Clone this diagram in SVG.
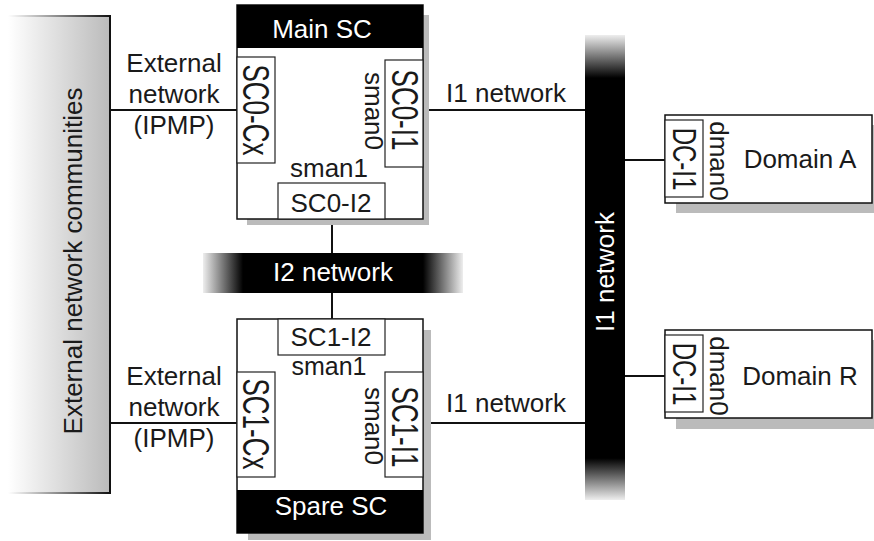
<svg xmlns="http://www.w3.org/2000/svg" width="874" height="541" viewBox="0 0 874 541">
<style>
text{font-family:"Liberation Sans",Arial,Helvetica,sans-serif;font-size:26px;fill:#1a1a1a}
.w{fill:#fff}
.box{fill:#fff;stroke:#111;stroke-width:1.5}
.port{fill:#fff;stroke:#222;stroke-width:1.2}
.sh{fill:#bbb}
.ln{stroke:#111;stroke-width:2;fill:none}
</style>
<defs>
<linearGradient id="extG" gradientUnits="userSpaceOnUse" x1="8" y1="0" x2="110" y2="0">
<stop offset="0" stop-color="#fff"/><stop offset="1" stop-color="#bbb"/>
</linearGradient>
<linearGradient id="extS" gradientUnits="userSpaceOnUse" x1="8" y1="0" x2="110" y2="0">
<stop offset="0" stop-color="#fff"/><stop offset="1" stop-color="#111"/>
</linearGradient>
<linearGradient id="i1G" gradientUnits="userSpaceOnUse" x1="0" y1="35" x2="0" y2="500">
<stop offset="0" stop-color="#eee"/><stop offset="0.0925" stop-color="#000"/><stop offset="0.91" stop-color="#000"/><stop offset="1" stop-color="#eee"/>
</linearGradient>
<linearGradient id="i2G" gradientUnits="userSpaceOnUse" x1="203" y1="0" x2="463" y2="0">
<stop offset="0" stop-color="#eee"/><stop offset="0.154" stop-color="#000"/><stop offset="0.846" stop-color="#000"/><stop offset="1" stop-color="#eee"/>
</linearGradient>
</defs>

<g id="connectors">
<line class="ln" x1="110" y1="110" x2="237" y2="110"/>
<line class="ln" x1="110" y1="423" x2="237" y2="423"/>
<line class="ln" x1="423" y1="110" x2="585" y2="110"/>
<line class="ln" x1="423" y1="423" x2="585" y2="423"/>
<line class="ln" x1="332" y1="220" x2="332" y2="253"/>
<line class="ln" x1="332" y1="293" x2="332" y2="319"/>
<line class="ln" x1="625" y1="160" x2="665" y2="160"/>
<line class="ln" x1="625" y1="376" x2="665" y2="376"/>
<text x="506" y="102" text-anchor="middle">I1 network</text>
<text x="506" y="412" text-anchor="middle">I1 network</text>
<text x="174" y="72" text-anchor="middle">External</text>
<text x="174" y="103" text-anchor="middle">network</text>
<text x="174" y="134" text-anchor="middle">(IPMP)</text>
<text x="174" y="385" text-anchor="middle">External</text>
<text x="174" y="416" text-anchor="middle">network</text>
<text x="174" y="447" text-anchor="middle">(IPMP)</text>
</g>

<g id="external-communities">
<rect x="8" y="16" width="102" height="477" fill="url(#extG)"/>
<path d="M8,16 H110 V493 H8" fill="none" stroke="url(#extS)" stroke-width="2"/>
<text transform="translate(82,261) rotate(-90)" text-anchor="middle">External network communities</text>
</g>

<g id="main-sc">
<rect class="sh" x="247" y="15" width="182" height="210"/>
<rect class="box" x="237" y="5" width="186" height="214"/>
<rect x="237" y="5" width="186" height="43" fill="#000"/>
<text class="w" x="322" y="38" text-anchor="middle">Main SC</text>
<rect class="port" x="237" y="57" width="38" height="106"/>
<text transform="translate(243,110) rotate(90) scale(1,1.4)" text-anchor="middle">SC0-Cx</text>
<rect class="port" x="385" y="60" width="38" height="107"/>
<text transform="translate(392,110) rotate(90) scale(1,1.4)" text-anchor="middle">SC0-I1</text>
<text transform="translate(365,111) rotate(90)" text-anchor="middle">sman0</text>
<text x="329" y="177" text-anchor="middle">sman1</text>
<rect class="port" x="278" y="183" width="107" height="36"/>
<text x="331" y="212" text-anchor="middle">SC0-I2</text>
</g>

<g id="i2-network">
<rect x="203" y="253" width="260" height="40" fill="url(#i2G)"/>
<text class="w" x="333" y="281" text-anchor="middle">I2 network</text>
</g>

<g id="spare-sc">
<rect class="sh" x="248" y="330" width="183" height="210"/>
<rect class="box" x="237" y="319" width="186" height="214"/>
<rect x="237" y="490" width="186" height="43" fill="#000"/>
<text class="w" x="331" y="515" text-anchor="middle">Spare SC</text>
<rect class="port" x="278" y="319" width="107" height="36"/>
<text x="331" y="346" text-anchor="middle">SC1-I2</text>
<text x="329" y="375" text-anchor="middle" style="font-size:25px">sman1</text>
<rect class="port" x="237" y="372" width="38" height="105"/>
<text transform="translate(243,424) rotate(90) scale(1,1.4)" text-anchor="middle">SC1-Cx</text>
<rect class="port" x="385" y="372" width="38" height="105"/>
<text transform="translate(392,427) rotate(90) scale(1,1.4)" text-anchor="middle">SC1-I1</text>
<text transform="translate(365,426) rotate(90)" text-anchor="middle">sman0</text>
</g>

<g id="i1-network">
<rect x="585" y="35" width="40" height="465" fill="url(#i1G)"/>
<text class="w" transform="translate(614,272) rotate(-90)" text-anchor="middle">I1 network</text>
</g>

<g id="domain-a">
<rect class="sh" x="676" y="125" width="198" height="88"/>
<rect class="box" x="665" y="115" width="207" height="88"/>
<rect class="port" x="665" y="120" width="38" height="77"/>
<text transform="translate(673,159) rotate(90) scale(1,1.35)" text-anchor="middle" style="font-size:24px">DC-I1</text>
<text transform="translate(710,161) rotate(90)" text-anchor="middle">dman0</text>
<text x="800" y="168" text-anchor="middle">Domain A</text>
</g>

<g id="domain-r">
<rect class="sh" x="676" y="340" width="198" height="89"/>
<rect class="box" x="665" y="330" width="207" height="88"/>
<rect class="port" x="665" y="335" width="38" height="77"/>
<text transform="translate(673,374) rotate(90) scale(1,1.35)" text-anchor="middle" style="font-size:24px">DC-I1</text>
<text transform="translate(710,376) rotate(90)" text-anchor="middle">dman0</text>
<text x="800" y="385" text-anchor="middle">Domain R</text>
</g>
</svg>
